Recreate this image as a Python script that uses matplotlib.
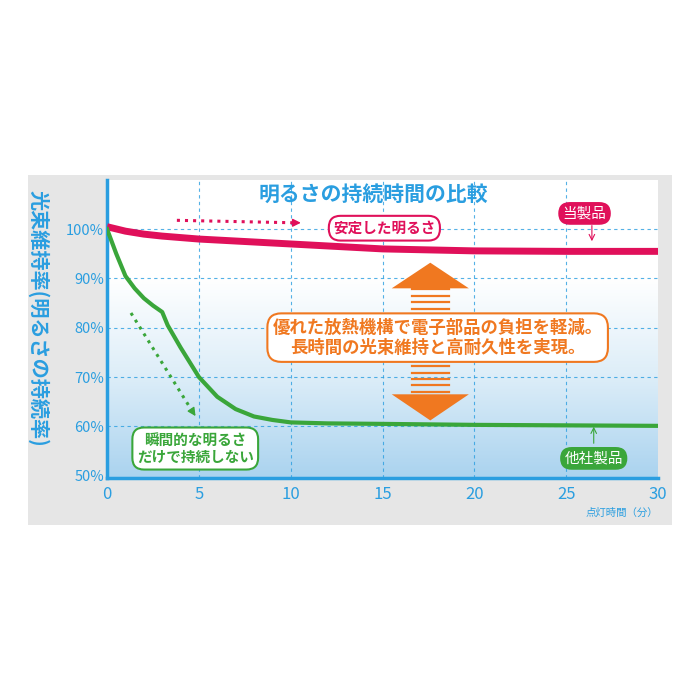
import matplotlib
matplotlib.use('Agg')
import matplotlib.pyplot as plt
import matplotlib.patches as patches
import numpy as np

plt.rcParams['font.family'] = ['Noto Sans CJK JP', 'DejaVu Sans']

BLUE = '#2a9ee0'
RED = '#e0105a'
GREEN = '#3aa63a'
ORANGE = '#f07820'

minutes_ours = [0, 1, 2, 3, 5, 7, 10, 13, 15, 20, 25, 30]
ours = [100.5, 99.6, 99.0, 98.6, 98.0, 97.6, 97.0, 96.4, 96.0, 95.6, 95.5, 95.5]
minutes_other = [0, 0.5, 1, 1.5, 2, 2.5, 3, 3.3, 4, 5, 6, 7, 8, 9, 10, 12, 15, 20, 25, 30]
other = [100, 95, 90.5, 88, 86, 84.5, 83.2, 80.5, 76, 70, 66, 63.5, 62, 61.3, 60.8, 60.6, 60.5, 60.3, 60.2, 60.1]
yticks = [50, 60, 70, 80, 90, 100]
xticks = [0, 5, 10, 15, 20, 25, 30]

fig = plt.figure(figsize=(7, 7), dpi=100)
fig.patches.append(patches.Rectangle((0.04, 0.25), 0.92, 0.5, transform=fig.transFigure,
                                     facecolor='#e6e6e6', edgecolor='none', zorder=-10))
ax = fig.add_axes([0.153, 0.317, 0.787, 0.426])
ax.set_xlim(0, 30)
ax.set_ylim(49.5, 110)

# gradient background
grad = np.linspace(0, 1, 256).reshape(-1, 1)
cmap = matplotlib.colors.LinearSegmentedColormap.from_list('bg', ['#aad3ef', '#dcedf8', '#ffffff', '#ffffff'])
ax.imshow(grad, extent=[0, 30, 49.5, 110], origin='lower', aspect='auto', cmap=cmap, zorder=0)

for y in yticks[1:]:
    ax.axhline(y, color=BLUE, ls=(0, (3, 3)), lw=0.8, alpha=0.8, zorder=1)
for x in xticks[1:-1]:
    ax.axvline(x, color=BLUE, ls=(0, (3, 3)), lw=0.8, alpha=0.8, zorder=1)

ax.plot(minutes_ours, ours, color=RED, lw=5, solid_capstyle='butt', zorder=4)
ax.plot(minutes_other, other, color=GREEN, lw=3, zorder=4)

for s in ['top', 'right']:
    ax.spines[s].set_visible(False)
for s in ['left', 'bottom']:
    ax.spines[s].set_color(BLUE)
    ax.spines[s].set_linewidth(2.5)
ax.set_xticks(xticks)
ax.set_yticks(yticks)
ax.set_yticklabels([f'{v}%' for v in yticks])
ax.tick_params(length=0, colors=BLUE, labelsize=10.5)
ax.tick_params(axis='x', labelsize=12, pad=6)
ax.tick_params(axis='y', pad=2)

ax.text(14.5, 107, '明るさの持続時間の比較', ha='center', va='center',
        fontsize=15, fontweight='bold', color=BLUE)
fig.text(0.055, 0.545, '光束維持率(明るさの持続率)', rotation=-90, ha='center', va='center',
         fontsize=14.5, fontweight='bold', color=BLUE)
ax.text(1.0, -0.1, '点灯時間（分）', transform=ax.transAxes, ha='right', va='top', fontsize=7.5, color=BLUE)

ax.text(15.1, 100.2, '安定した明るさ', ha='center', va='center', fontsize=10.5, fontweight='bold', color=RED,
        bbox=dict(boxstyle='round,pad=0.3,rounding_size=0.8', fc='white', ec=RED, lw=1.5), zorder=6)
ax.plot([3.8, 10.2], [101.8, 101.3], color=RED, ls=':', lw=2.2, zorder=5)
ax.annotate('', xy=(10.7, 101.3), xytext=(10.2, 101.3),
            arrowprops=dict(arrowstyle='-|>', color=RED, lw=1, mutation_scale=12), zorder=5)
ax.text(26, 103.2, '当製品', ha='center', va='center', fontsize=10.5, color='white',
        bbox=dict(boxstyle='round,pad=0.3,rounding_size=0.8', fc=RED, ec='none'), zorder=6)
ax.annotate('', xy=(26.4, 97), xytext=(26.4, 101.3),
            arrowprops=dict(arrowstyle='->', color=RED, lw=0.8), zorder=5)

ax.text(4.8, 55.5, '瞬間的な明るさ\nだけで持続しない', ha='center', va='center', fontsize=10.5,
        fontweight='bold', color=GREEN, linespacing=1.1,
        bbox=dict(boxstyle='round,pad=0.3,rounding_size=0.8', fc='white', ec=GREEN, lw=1.5), zorder=6)
ax.plot([1.3, 4.6], [83, 63.3], color=GREEN, ls=':', lw=2.2, zorder=5)
ax.annotate('', xy=(4.9, 61.6), xytext=(4.6, 63.3),
            arrowprops=dict(arrowstyle='-|>', color=GREEN, lw=1, mutation_scale=12), zorder=5)
ax.text(26.5, 53.5, '他社製品', ha='center', va='center', fontsize=10.5, color='white',
        bbox=dict(boxstyle='round,pad=0.3,rounding_size=0.8', fc=GREEN, ec='none'), zorder=6)
ax.annotate('', xy=(26.5, 60.5), xytext=(26.5, 56),
            arrowprops=dict(arrowstyle='->', color=GREEN, lw=0.8), zorder=5)

# orange double arrow with stripes
ax.add_patch(patches.Polygon([[15.5, 88], [17.6, 93.2], [19.7, 88]], closed=True, fc=ORANGE, ec='none', zorder=3))
ax.add_patch(patches.Polygon([[15.5, 66.5], [17.6, 61.2], [19.7, 66.5]], closed=True, fc=ORANGE, ec='none', zorder=3))
for y in np.arange(67, 88, 1.3):
    ax.plot([16.6, 18.6], [y, y], color=ORANGE, lw=1.6, zorder=3)

ax.text(18, 78, '優れた放熱機構で電子部品の負担を軽減。\n長時間の光束維持と高耐久性を実現。', ha='center',
        va='center', fontsize=12.5, fontweight='bold', color=ORANGE, linespacing=1.15,
        bbox=dict(boxstyle='round,pad=0.3,rounding_size=0.8', fc='white', ec=ORANGE, lw=1.5), zorder=6)

fig.savefig('out.png', dpi=100)
